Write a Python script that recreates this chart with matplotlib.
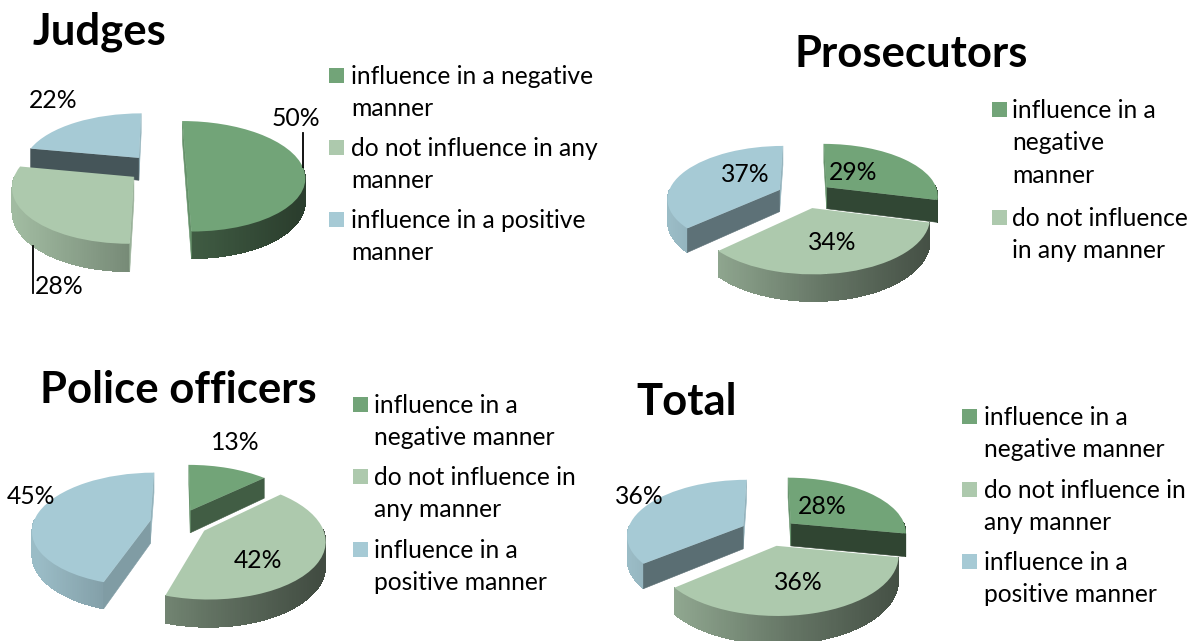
# recreating four exploded 3D pie charts (survey answers per group)
import numpy as np
import matplotlib
matplotlib.use('Agg')
import matplotlib.pyplot as plt
from matplotlib.patches import Polygon, Rectangle
from matplotlib.transforms import Transform

plt.rcParams['font.family'] = ['Lato', 'DejaVu Sans']

# data, share of answers in percent
judges = [50, 28, 22]
prosecutors = [29, 34, 37]
police = [13, 42, 45]
total = [28, 36, 36]

chart_titles = ['Judges', 'Prosecutors', 'Police officers', 'Total']
top_colors = ['#72A478', '#ADC9AD', '#A6CAD5']


class Tilt(Transform):
    # disc coordinates to pixels, the far side of the disc gets smaller
    input_dims = 2
    output_dims = 2

    def __init__(self, cx, cy, a, b, k=0.15):
        super().__init__()
        self.cx, self.cy, self.a, self.b, self.k = cx, cy, a, b, k

    def transform_non_affine(self, xy):
        xy = np.asarray(xy, dtype=float)
        w = 1 + self.k * xy[:, 1]
        return np.column_stack((self.cx + self.a * xy[:, 0] / w,
                                self.cy - self.b * xy[:, 1] / w))


def shade(color, f):
    rgb = np.array(matplotlib.colors.to_rgb(color))
    return tuple(np.clip(rgb * f, 0, 1))


def draw_pie(ax, values, cx, cy, a, b, depth=23, start=90, expl=0.25):
    tilt = Tilt(cx, cy, a, b)
    wedges, _ = ax.pie(values, colors=top_colors, startangle=start, counterclock=False,
                       explode=[expl] * len(values), wedgeprops={'linewidth': 0})
    order = np.argsort([-w.center[1] for w in wedges])
    for rank, i in enumerate(order):
        w = wedges[i]
        col = top_colors[i]
        z = 3 + rank * 2
        c = np.array(w.center)
        t = np.radians(np.arange(w.theta1, w.theta2 + 1, 1.0))
        t[-1] = np.radians(w.theta2)

        def drop(disc):
            disc = np.atleast_2d(disc)
            p = tilt.transform(disc)
            p[:, 1] += depth / (1 + tilt.k * disc[:, 1])
            return p

        # rim of the slice, darker towards the right
        for t0, t1 in zip(t[:-1], t[1:]):
            disc = c + np.array([[np.cos(t0), np.sin(t0)], [np.cos(t1), np.sin(t1)]])
            if disc[:, 1].mean() - c[1] > 0.02:
                continue
            up = tilt.transform(disc)
            low = drop(disc)
            u = (up[:, 0].mean() - cx) / a
            f = np.interp(u, [-1.2, -0.2, 0.2, 1.2], [0.93, 0.68, 0.58, 0.38])
            fc = shade(col, f)
            ax.add_patch(Polygon(np.vstack((up, low[::-1])), closed=True, fc=fc, ec='none',
                                 antialiased=False, zorder=z))

        # cut faces of the slice
        mid = np.radians((w.theta1 + w.theta2) / 2)
        A = tilt.transform(np.atleast_2d(c))[0]
        M = tilt.transform(np.atleast_2d(c + 0.5 * np.array([np.cos(mid), np.sin(mid)])))[0]
        for th in (w.theta1, w.theta2):
            rim = c + np.array([np.cos(np.radians(th)), np.sin(np.radians(th))])
            P = tilt.transform(np.atleast_2d(rim))[0]
            e = P - A
            side_m = e[0] * (M - A)[1] - e[1] * (M - A)[0]
            side_d = e[0] * depth
            if side_m * side_d >= 0:
                continue
            slope = np.degrees(np.arctan2(abs(e[1]), abs(e[0])))
            fc = shade(col, np.interp(slope, [0, 47, 90], [0.38, 0.75, 0.9]))
            pts = np.vstack((A, P, drop(rim)[0], drop(c)[0]))
            ax.add_patch(Polygon(pts, closed=True, fc=fc, ec=fc, lw=0.4, zorder=z + 0.5))

        w.set_transform(tilt + ax.transData)
        w.set_zorder(z + 1)


fig = plt.figure(figsize=(12, 6.41), dpi=100)
ax = fig.add_axes([0, 0, 1, 1])

draw_pie(ax, judges, 157, 168, 117, 54)
draw_pie(ax, prosecutors, 805, 195, 112, 52, depth=22)
draw_pie(ax, police, 179, 523, 117, 56)
draw_pie(ax, total, 769, 532, 116, 55)

ax.set_aspect('auto')
ax.set_xlim(0, 1200)
ax.set_ylim(641, 0)
ax.axis('off')

# titles
title_pos = [(33, 32), (794, 54), (40, 390), (636, 402)]
for name, (x, y) in zip(chart_titles, title_pos):
    ax.text(x, y, name, fontsize=31.4, fontweight='bold', ha='left', va='center', zorder=30)

# percent labels
label_pos = [
    [(296, 118), (59, 287), (53, 100)],
    [(853, 172), (832, 243), (745, 175)],
    [(235, 443), (258, 560), (31, 497)],
    [(822, 507), (798, 582), (639, 497)],
]
for vals, spots in zip([judges, prosecutors, police, total], label_pos):
    for v, (x, y) in zip(vals, spots):
        ax.text(x, y, f'{v}%', fontsize=17.8, ha='center', va='center', zorder=30)

# leader lines of the judges chart
ax.plot([303, 303], [133, 167], color='black', lw=1.3, zorder=30)
ax.plot([33, 33], [246, 293], color='black', lw=1.3, zorder=30)

# legends: text x, square x, label and centre of its first line
legends = [
    (351, 329, [('influence in a negative\nmanner', 75), ('do not influence in any\nmanner', 147),
                ('influence in a positive\nmanner', 219)]),
    (1012, 992, [('influence in a\nnegative\nmanner', 109), ('do not influence\nin any manner', 217)]),
    (374, 353, [('influence in a\nnegative manner', 404), ('do not influence in\nany manner', 476),
                ('influence in a\npositive manner', 549)]),
    (984, 962, [('influence in a\nnegative manner', 416), ('do not influence in\nany manner', 489),
                ('influence in a\npositive manner', 561)]),
]
for tx, sx, entries in legends:
    for i, (lab, y) in enumerate(entries):
        ax.add_patch(Rectangle((sx, y - 7.5), 15, 15, fc=top_colors[i], ec='none', zorder=30))
        ax.text(tx, y - 10, lab, fontsize=17.7, ha='left', va='top', linespacing=1.49, zorder=30)

fig.savefig('out.png', dpi=100)
